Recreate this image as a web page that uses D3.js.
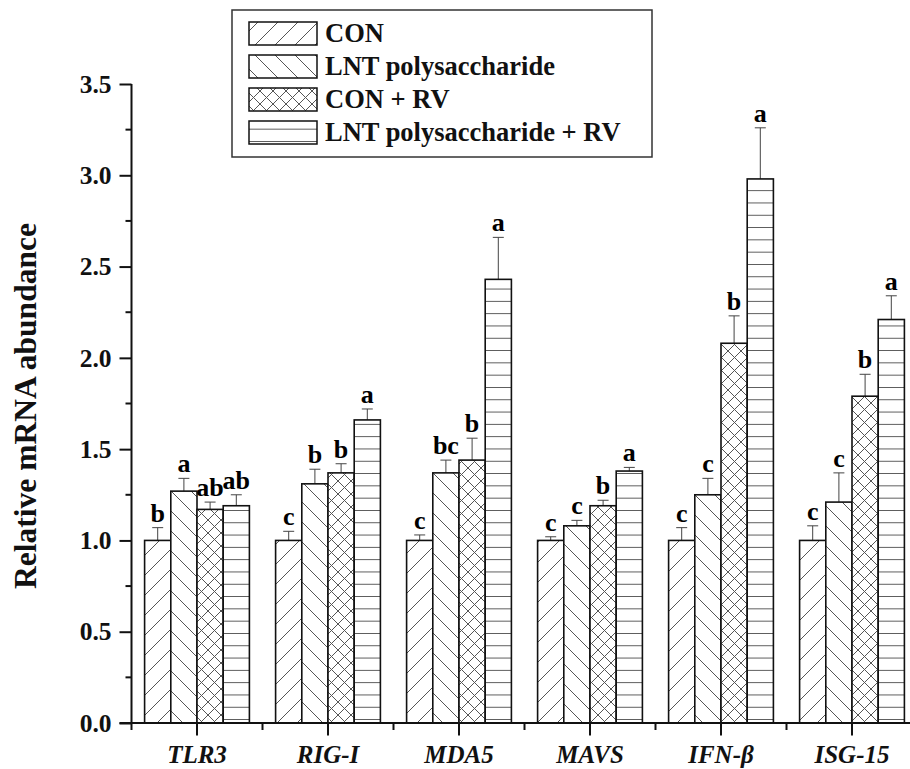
<!DOCTYPE html>
<html><head><meta charset="utf-8">
<script src="https://cdn.jsdelivr.net/npm/d3@7/dist/d3.min.js"></script>
<style>body{margin:0;background:#fff}svg{display:block}</style>
</head><body>
<svg id="c" width="910" height="769"></svg>
<script>
const categories = ["TLR3","RIG-I","MDA5","MAVS","IFN-β","ISG-15"];
const seriesNames = ["CON","LNT polysaccharide","CON + RV","LNT polysaccharide + RV"];
const conValues    = [1.00, 1.00, 1.00, 1.00, 1.00, 1.00];
const conErr       = [0.07, 0.05, 0.03, 0.02, 0.07, 0.08];
const lntValues    = [1.27, 1.31, 1.37, 1.08, 1.25, 1.21];
const lntErr       = [0.07, 0.08, 0.07, 0.03, 0.09, 0.16];
const conRvValues  = [1.17, 1.37, 1.44, 1.19, 2.08, 1.79];
const conRvErr     = [0.04, 0.05, 0.12, 0.03, 0.15, 0.12];
const lntRvValues  = [1.19, 1.66, 2.43, 1.38, 2.98, 2.21];
const lntRvErr     = [0.06, 0.06, 0.23, 0.02, 0.28, 0.13];
const conLetters   = ["b","c","c","c","c","c"];
const lntLetters   = ["a","b","bc","c","c","c"];
const conRvLetters = ["ab","b","b","b","b","b"];
const lntRvLetters = ["ab","a","a","a","a","a"];
const yTicks = [0,0.5,1.0,1.5,2.0,2.5,3.0,3.5];

const series = [
  {name: seriesNames[0], values: conValues, err: conErr, letters: conLetters, pat: "p0"},
  {name: seriesNames[1], values: lntValues, err: lntErr, letters: lntLetters, pat: "p1"},
  {name: seriesNames[2], values: conRvValues, err: conRvErr, letters: conRvLetters, pat: "p2"},
  {name: seriesNames[3], values: lntRvValues, err: lntRvErr, letters: lntRvLetters, pat: "p3"}
];

const FONT = "'Liberation Serif','Times New Roman',serif";
const svg = d3.select("#c");
const x0 = 131.5, yBase = 723, yTop = 84;
const x = d3.scaleBand().domain(categories).range([x0, x0 + 6*131]).paddingInner(0.2).paddingOuter(0.1);
const xs = d3.scaleBand().domain(d3.range(4)).range([0, x.bandwidth()]);
const y = d3.scaleLinear().domain([0, 3.5]).range([yBase, yTop]);

// patterns
const defs = svg.append("defs");
const hatch = "#555";
function pat(id, size, d) {
  const p = defs.append("pattern").attr("id", id).attr("patternUnits","userSpaceOnUse")
    .attr("width", size).attr("height", size);
  p.append("rect").attr("width", size).attr("height", size).attr("fill","#fff");
  p.append("path").attr("d", d).attr("stroke", hatch).attr("stroke-width", 1).attr("fill","none");
}
const s1 = 20;
pat("p0", s1, `M0,${s1} L${s1},0 M${-s1/2},${s1/2} L${s1/2},${-s1/2} M${s1/2},${s1*1.5} L${s1*1.5},${s1/2}`);
pat("p1", s1, `M0,0 L${s1},${s1} M${-s1/2},${s1/2} L${s1/2},${s1*1.5} M${s1/2},${-s1/2} L${s1*1.5},${s1/2}`);
const s2 = 13;
pat("p2", s2, `M0,${s2} L${s2},0 M0,0 L${s2},${s2}`);
const s3 = 12.3;
pat("p3", s3, `M0,${s3/2} L${s3},${s3/2}`);

// bars
const g = svg.append("g");
series.forEach((s, i) => {
  const grp = g.append("g");
  categories.forEach((c, j) => {
    const bx = x(c) + xs(i), bw = xs.bandwidth();
    const v = s.values[j], e = s.err[j];
    const cx = bx + bw/2;
    grp.append("line").attr("x1", cx).attr("x2", cx).attr("y1", y(v)).attr("y2", y(v+e))
      .attr("stroke", "#444").attr("stroke-width", 1);
    grp.append("line").attr("x1", cx-5.5).attr("x2", cx+5.5).attr("y1", y(v+e)).attr("y2", y(v+e))
      .attr("stroke", "#444").attr("stroke-width", 1);
    grp.append("rect").attr("x", bx).attr("y", y(v)).attr("width", bw).attr("height", y(0)-y(v))
      .attr("fill", `url(#${s.pat})`).attr("stroke", "#111").attr("stroke-width", 1.6);
    grp.append("text").attr("x", cx).attr("y", y(v+e) - 6).attr("text-anchor","middle")
      .attr("font-family", FONT).attr("font-weight","bold").attr("font-size", 26)
      .text(s.letters[j]);
  });
});

// y axis
const yAxis = d3.axisLeft(y).tickValues(yTicks).tickSize(12).tickPadding(8).tickFormat(d3.format(".1f"));
const ya = svg.append("g").attr("transform", `translate(${x0},0)`).call(yAxis);
ya.select(".domain").remove();
ya.selectAll(".tick line").attr("stroke","#111").attr("stroke-width",2);
ya.selectAll(".tick text").attr("font-family", FONT).attr("font-weight","bold").attr("font-size", 25.5).attr("fill","#111");
const yMinor = d3.range(0.25, 3.5, 0.5);
svg.append("g").selectAll("line").data(yMinor).join("line")
  .attr("x1", x0-6).attr("x2", x0).attr("y1", d=>y(d)).attr("y2", d=>y(d))
  .attr("stroke","#111").attr("stroke-width",2);
svg.append("line").attr("x1", x0).attr("x2", x0).attr("y1", y(3.5)).attr("y2", y(0)+1)
  .attr("stroke","#111").attr("stroke-width",2);

// x axis
svg.append("line").attr("x1", x0-12).attr("x2", 910).attr("y1", yBase).attr("y2", yBase)
  .attr("stroke","#111").attr("stroke-width",2);
const step = x.step();
svg.append("g").selectAll("line").data(categories).join("line")
  .attr("x1", d=>x(d)+x.bandwidth()/2).attr("x2", d=>x(d)+x.bandwidth()/2)
  .attr("y1", yBase).attr("y2", yBase+12.5).attr("stroke","#111").attr("stroke-width",2);
svg.append("g").selectAll("line").data(d3.range(0,7)).join("line")
  .attr("x1", d=>x0 + d*step).attr("x2", d=>x0 + d*step)
  .attr("y1", yBase).attr("y2", yBase+7).attr("stroke","#111").attr("stroke-width",2);
svg.append("g").selectAll("text").data(categories).join("text")
  .attr("x", d=>x(d)+x.bandwidth()/2).attr("y", 763).attr("text-anchor","middle")
  .attr("font-family", FONT).attr("font-weight","bold").attr("font-style","italic").attr("font-size", 25)
  .attr("fill","#111").text(d=>d);

// y title
svg.append("text").attr("transform", "translate(36,406) rotate(-90)").attr("text-anchor","middle")
  .attr("font-family", FONT).attr("font-weight","bold").attr("font-size", 31.5).attr("fill","#111")
  .text("Relative mRNA abundance");

// legend
const lg = svg.append("g");
lg.append("rect").attr("x", 232).attr("y", 10).attr("width", 420).attr("height", 147)
  .attr("fill","#fff").attr("stroke","#333").attr("stroke-width",1.5);
series.forEach((s, i) => {
  const ry = 22 + i*33;
  lg.append("rect").attr("x", 249).attr("y", ry).attr("width", 68).attr("height", 23)
    .attr("fill", `url(#${s.pat})`).attr("stroke","#111").attr("stroke-width",1.5);
  lg.append("text").attr("x", 325).attr("y", ry + 20).attr("font-family", FONT).attr("font-weight","bold")
    .attr("font-size", 26.5).attr("fill","#111").text(s.name);
});
</script>
</body></html>
